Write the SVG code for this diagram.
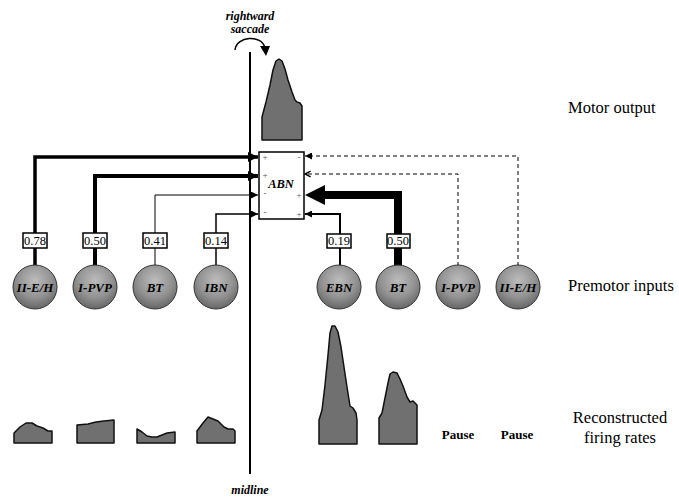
<svg xmlns="http://www.w3.org/2000/svg" width="679" height="497" viewBox="0 0 679 497" font-family="'Liberation Serif', 'Times New Roman', 'DejaVu Serif', serif">
<style>
text{font-family:"Liberation Serif","Times New Roman","DejaVu Serif",serif;fill:#000}
.nl{font-size:13px;font-weight:bold;font-style:italic;text-anchor:middle}
.num{font-size:12.5px;text-anchor:middle}
.side{font-size:16.5px}
.bi{font-size:12px;font-weight:bold;font-style:italic;text-anchor:middle}
.pm{font-size:9px;fill:#555;text-anchor:middle}
.nd{fill:url(#g);stroke:#333;stroke-width:1}
.fr{fill:#707070;stroke:#111;stroke-width:1.5;stroke-linejoin:round}
.ln{fill:none;stroke:#000;stroke-linejoin:miter}
.dash{fill:none;stroke:#000;stroke-width:1;stroke-dasharray:4,3}
.lb{fill:#fff;stroke:#000;stroke-width:1.5}
</style>
<defs>
<radialGradient id="g" cx="50%" cy="35%" r="65%">
<stop offset="0" stop-color="#bcbcbc"/>
<stop offset="0.6" stop-color="#929292"/>
<stop offset="1" stop-color="#666"/>
</radialGradient>
<marker id="ahS" viewBox="0 0 10 10" refX="10" refY="5" markerWidth="7" markerHeight="7" markerUnits="userSpaceOnUse" orient="auto">
<path d="M0,0 L10,5 L0,10 z" fill="#000"/>
</marker>
<marker id="ahL" viewBox="0 0 10 10" refX="10" refY="5" markerWidth="10" markerHeight="12" markerUnits="userSpaceOnUse" orient="auto">
<path d="M0,0 L10,5 L0,10 z" fill="#000"/>
</marker>
<marker id="ahO" viewBox="0 0 10 10" refX="9" refY="5" markerWidth="7" markerHeight="8" markerUnits="userSpaceOnUse" orient="auto">
<path d="M1,1 L9,5 L1,9" fill="none" stroke="#000" stroke-width="2"/>
</marker>
</defs>
<rect width="679" height="497" fill="#fff"/>

<g id="midline">
<line x1="250" y1="52" x2="250" y2="474" stroke="#000" stroke-width="2"/>
<text class="bi" x="250" y="20">rightward</text>
<text class="bi" x="250" y="33">saccade</text>
<path d="M235,50 C236,36 262,34 265,48" fill="none" stroke="#000" stroke-width="1.5"/>
<path d="M260,46 L270,46 L266,56 z" fill="#000"/>
<text class="bi" x="250" y="494">midline</text>
</g>

<g id="motor-output">
<path class="fr" d="M262,140 L262,117 L266,102 L270,85 L273,70 L276,61 L279,59 L282,61 L285,69 L288,80 L292,92 L295,100 L297,102 L300,103 L302,106 L302,140 Z"/>
</g>

<g id="connectors">
<path class="ln" d="M35,233 V157 H258" stroke-width="3.5" marker-end="url(#ahL)"/>
<path class="ln" d="M35,248 V266" stroke-width="3.5"/>
<path class="ln" d="M95,233 V176 H258" stroke-width="4" marker-end="url(#ahL)"/>
<path class="ln" d="M95,248 V266" stroke-width="4"/>
<path class="ln" d="M155,233 V195 H258" stroke-width="1" marker-end="url(#ahS)"/>
<path class="ln" d="M155,248 V266" stroke-width="1"/>
<path class="ln" d="M216,233 V214 H258" stroke-width="1.5" marker-end="url(#ahS)"/>
<path class="ln" d="M216,248 V266" stroke-width="1.5"/>
<path class="ln" d="M340,234 V214 H305" stroke-width="2" marker-end="url(#ahS)"/>
<path class="ln" d="M340,247 V266" stroke-width="2"/>
<path class="ln" d="M398,234 V195 H322" stroke-width="8"/>
<path d="M305,195 L325,185 L325,205 Z" fill="#000"/>
<path class="ln" d="M398,247 V266" stroke-width="8"/>
<path class="dash" d="M458,266 V174 H305" marker-end="url(#ahO)"/>
<path class="dash" d="M518,266 V156 H305" marker-end="url(#ahS)"/>
<rect class="lb" x="23" y="233" width="24" height="15"/>
<text class="num" x="35" y="245">0.78</text>
<rect class="lb" x="83" y="233" width="24" height="15"/>
<text class="num" x="95" y="245">0.50</text>
<rect class="lb" x="143" y="233" width="24" height="15"/>
<text class="num" x="155" y="245">0.41</text>
<rect class="lb" x="204" y="233" width="24" height="15"/>
<text class="num" x="216" y="245">0.14</text>
<rect class="lb" x="327" y="234" width="24" height="14"/>
<text class="num" x="339" y="245">0.19</text>
<rect class="lb" x="387" y="234" width="23" height="14"/>
<text class="num" x="398" y="245">0.50</text>
</g>

<g id="node-ABN">
<rect x="259" y="152" width="45" height="67" fill="#fff" stroke="#000" stroke-width="1.5"/>
<text x="281" y="188" style="font-size:12.5px;font-weight:bold;font-style:italic;text-anchor:middle">ABN</text>
<text class="pm" x="265" y="160">+</text>
<text class="pm" x="265" y="178">+</text>
<text class="pm" x="265" y="196">-</text>
<text class="pm" x="265" y="215">-</text>
<text class="pm" x="299" y="160">-</text>
<text class="pm" x="299" y="198">+</text>
<text class="pm" x="299" y="217">+</text>
</g>

<g id="node-L-IIEH"><circle class="nd" cx="35" cy="287" r="22"/><text class="nl" x="35" y="292">II-E/H</text></g>
<g id="node-L-IPVP"><circle class="nd" cx="95" cy="287" r="22"/><text class="nl" x="95" y="292">I-PVP</text></g>
<g id="node-L-BT"><circle class="nd" cx="155" cy="287" r="22"/><text class="nl" x="155" y="292">BT</text></g>
<g id="node-L-IBN"><circle class="nd" cx="216" cy="287" r="22"/><text class="nl" x="216" y="292">IBN</text></g>
<g id="node-R-EBN"><circle class="nd" cx="339" cy="287" r="22"/><text class="nl" x="339" y="292">EBN</text></g>
<g id="node-R-BT"><circle class="nd" cx="398" cy="287" r="22"/><text class="nl" x="398" y="292">BT</text></g>
<g id="node-R-IPVP"><circle class="nd" cx="458" cy="287" r="22"/><text class="nl" x="458" y="292">I-PVP</text></g>
<g id="node-R-IIEH"><circle class="nd" cx="518" cy="287" r="22"/><text class="nl" x="518" y="292">II-E/H</text></g>

<g id="firing-rates">
<path class="fr" d="M14,443 L14,433 L20,427 L26,423 L32,423 L37,426 L43,428 L48,431 L52,431 L52,443 Z"/>
<path class="fr" d="M77,443 L77,425 L88,424 L96,422 L104,421 L114,420 L114,443 Z"/>
<path class="fr" d="M137,443 L137,429 L142,432 L147,436 L152,437 L157,437 L162,435 L167,433 L175,432 L175,443 Z"/>
<path class="fr" d="M197,443 L197,431 L203,423 L208,417 L213,419 L218,421 L224,427 L228,429 L233,429 L235,431 L235,443 Z"/>
<path class="fr" d="M319,444 L319,420 L322,410 L325,385 L328,355 L330,333 L332,326 L335,326 L338,332 L341,347 L344,367 L347,387 L350,406 L353,408 L356,413 L357,420 L357,444 Z"/>
<path class="fr" d="M379,444 L379,418 L382,413 L385,398 L388,383 L390,374 L393,372 L397,373 L400,379 L403,386 L407,397 L410,402 L413,401 L417,405 L417,444 Z"/>
<text x="458" y="439" style="font-size:13px;font-weight:bold;text-anchor:middle">Pause</text>
<text x="517" y="439" style="font-size:13px;font-weight:bold;text-anchor:middle">Pause</text>
</g>

<g id="side-labels">
<text class="side" x="568" y="113">Motor output</text>
<text class="side" x="568" y="291">Premotor inputs</text>
<text class="side" x="620" y="423" text-anchor="middle">Reconstructed</text>
<text class="side" x="620" y="443" text-anchor="middle">firing rates</text>
</g>
</svg>
